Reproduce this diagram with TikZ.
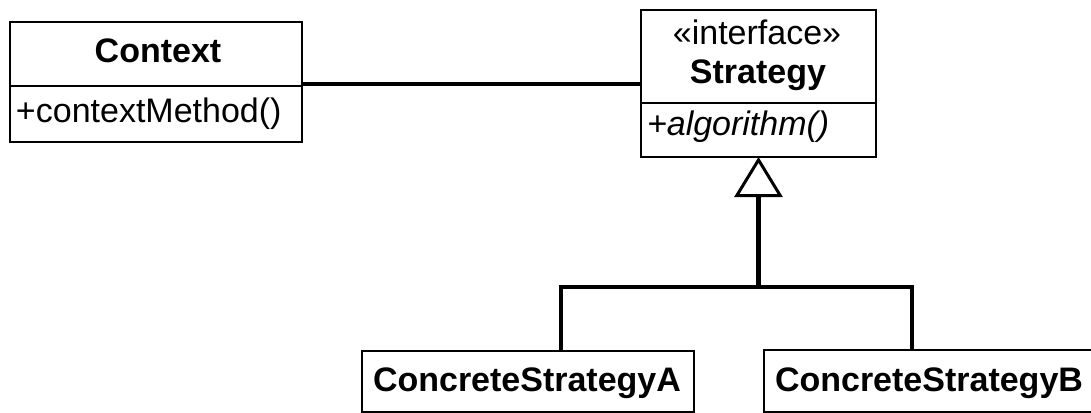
\documentclass[tikz,border=0pt]{standalone}
\usepackage{fontspec}
\setmainfont{Liberation Sans}
\usetikzlibrary{arrows.meta}
\begin{document}
\begin{tikzpicture}[x=1pt,y=-1pt,
  every node/.style={inner sep=0pt, outer sep=0pt},
  classbox/.style={draw, line width=2.7pt, anchor=north west, fill=white},
  lbl/.style={font=\fontsize{34}{40}\selectfont},
  assoc/.style={line width=4pt},
  gen/.style={line width=4.2pt, line join=miter}]

% canvas
\clip (0,0) rectangle (1091,412);
\fill[white] (0,0) rectangle (1091,412);

% Context class
\node[classbox, minimum width=292pt, minimum height=64pt] (ctxhead) at (10,22) {};
\node[classbox, minimum width=292pt, minimum height=56pt] (ctxbody) at (10,86) {};
\node[lbl, anchor=base] (ctxname) at (158,63) {\bfseries Context};
\node[lbl, anchor=base west] (ctxop) at (16,122) {+contextMethod()};

% Strategy interface
\node[classbox, minimum width=235pt, minimum height=93pt] (strhead) at (641,10) {};
\node[classbox, minimum width=235pt, minimum height=54pt] (strbody) at (641,103) {};
\node[lbl, anchor=base] (strstereo) at (757,45) {«interface»};
\node[lbl, anchor=base] (strname) at (758,83) {\bfseries Strategy};
\node[lbl, anchor=base west] (strop) at (647,135) {\itshape +algorithm()};

% concrete strategies
\node[classbox, minimum width=332pt, minimum height=61pt] (ca) at (362,351) {};
\node[lbl, anchor=base west] (catxt) at (373,391) {\bfseries ConcreteStrategyA};
\node[classbox, minimum width=340pt, minimum height=62pt] (cb) at (764,350) {};
\node[lbl, anchor=base west] (cbtxt) at (775,391) {\bfseries ConcreteStrategyB};

% association Context -- Strategy
\coordinate (assocstart) at ([yshift=2.5pt]ctxhead.south east);
\draw[assoc] (assocstart) -- (assocstart -| strhead.west);

% generalization tree
\coordinate (fork) at ([yshift=-130pt]strbody.south);
\draw[gen, -{Triangle[open, length=40pt, width=48pt, line width=3pt]}] (fork) -- (strbody.south);
\draw[gen] ([xshift=199pt]ca.north west) |- (fork) -| ([xshift=148pt]cb.north west);
\end{tikzpicture}
\end{document}
